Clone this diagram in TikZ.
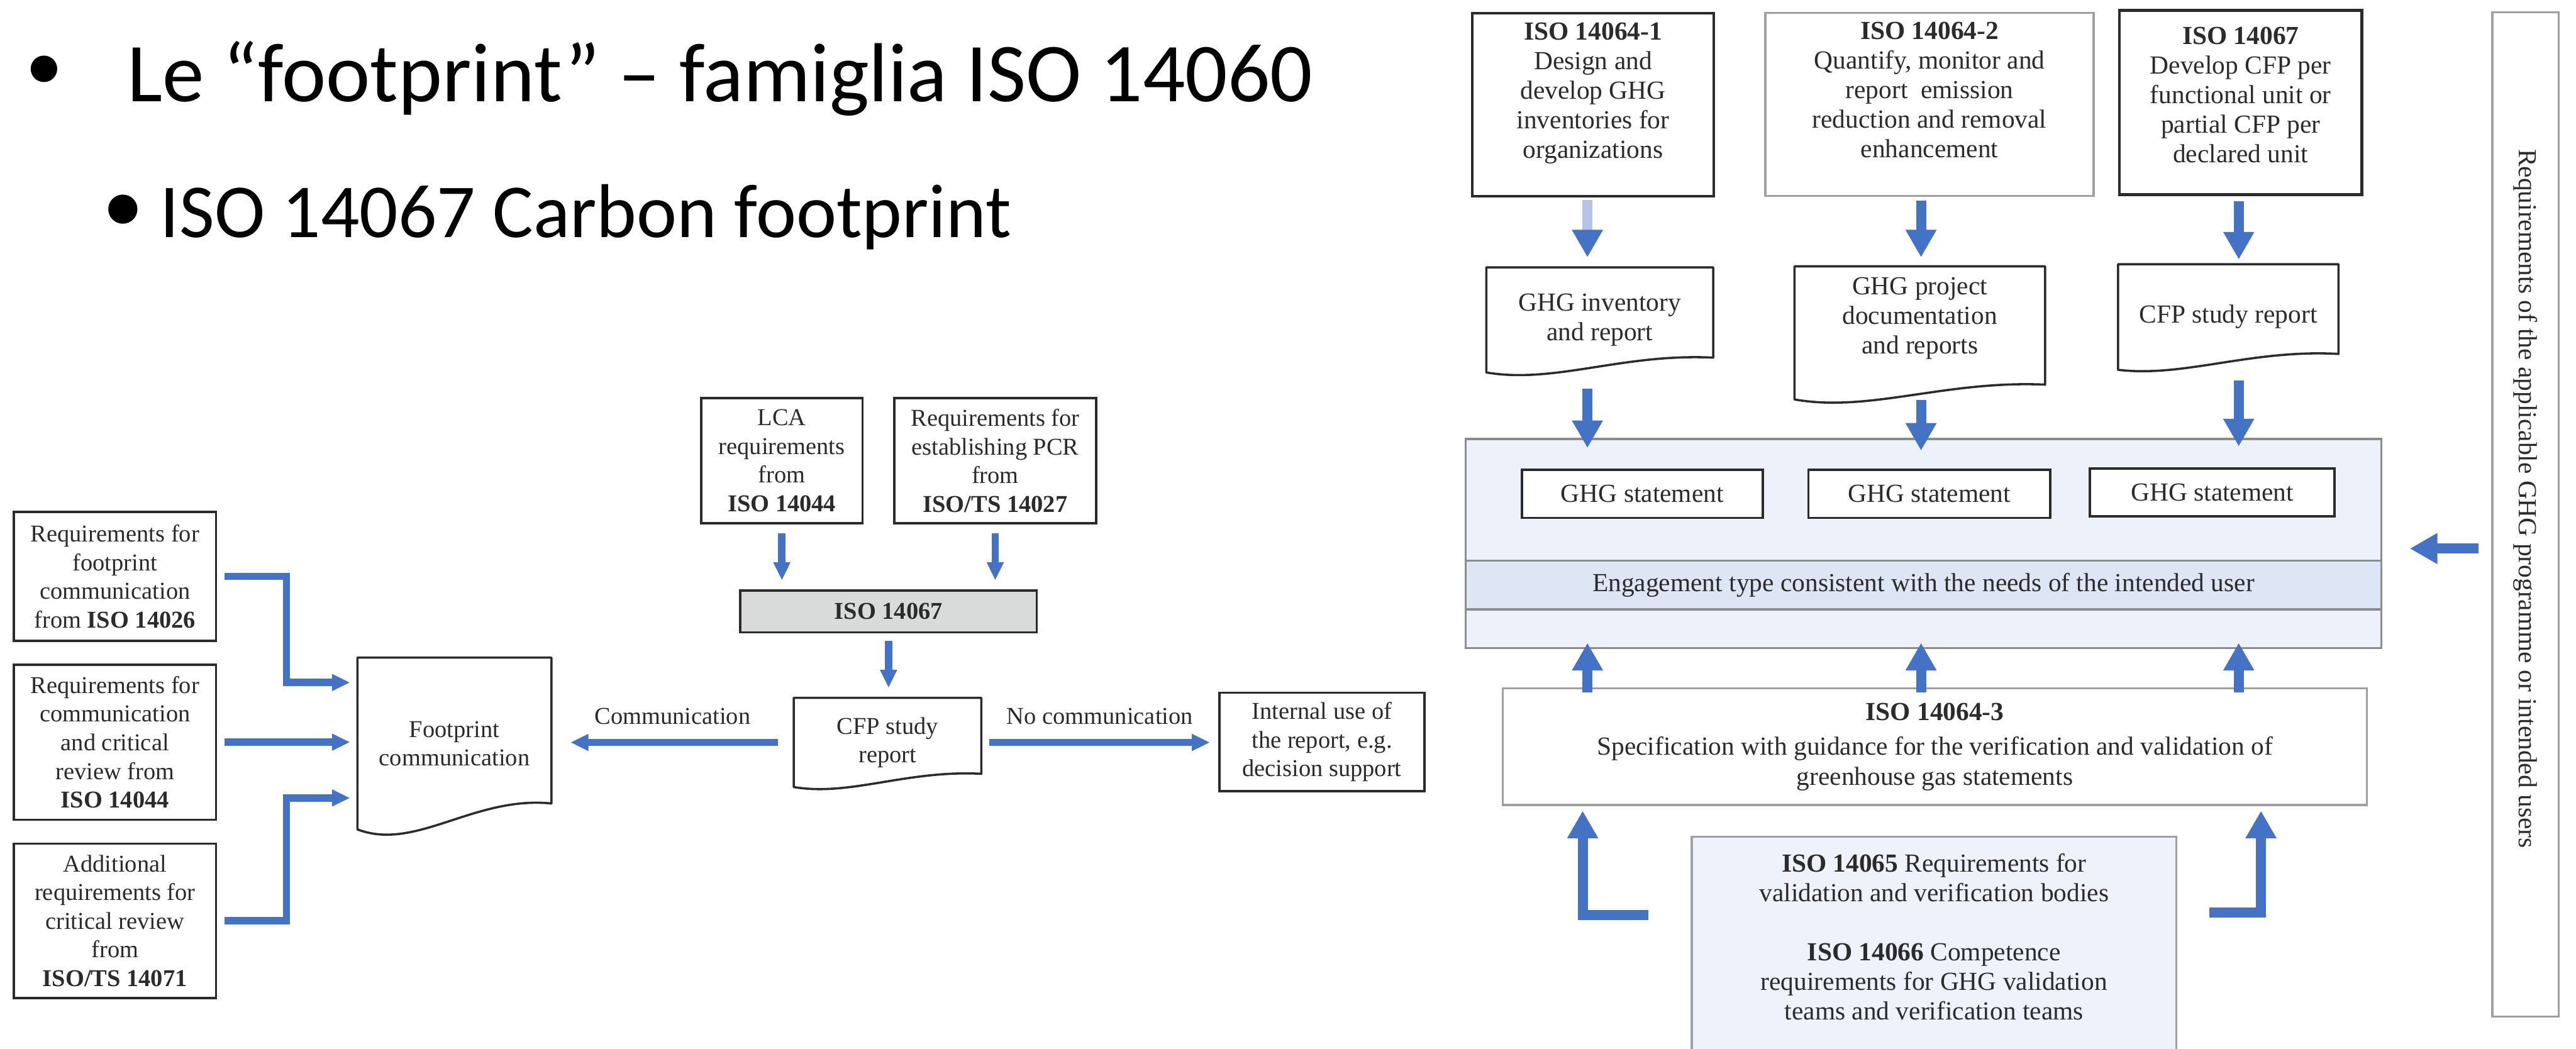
\documentclass[tikz,border=0pt]{standalone}
\usepackage{fontspec}
\setmainfont{Liberation Serif}
\newfontfamily\slidefont{Carlito}
\usepackage{xcolor}
\usetikzlibrary{arrows.meta,positioning,calc}
\definecolor{isoblue}{HTML}{4472C4}
\definecolor{isopale}{HTML}{B4C3E6}
\definecolor{boxgray}{HTML}{D9DADA}
\definecolor{lineg}{HTML}{A0A0A0}
\definecolor{panelline}{HTML}{8C8C8C}
\definecolor{inkdark}{HTML}{2B2B2B}
\definecolor{panel}{HTML}{EDF1F9}
\definecolor{band}{HTML}{DEE5F4}
\definecolor{panelb}{HTML}{EEF2FB}

% document symbol: top edge, sides, wavy bottom
\newcommand{\drawdoc}[3]{%
  \draw[docline] (#1.north west) -- (#1.north east) -- ([yshift=#2cm]#1.south east)
    .. controls ($(#1.south west)!0.6!(#1.south east)+(0,1.3*#2)$)
    and ($(#1.south west)!0.3!(#1.south east)+(0,-#3)$) .. (#1.south west) -- cycle;}

\begin{document}
\begin{tikzpicture}[x=1cm, y=1cm,
    txt/.style={font=\fontsize{13pt}{15.4pt}\selectfont, text=inkdark, align=center},
    rtxt/.style={font=\fontsize{14pt}{15.9pt}\selectfont},
    stdbox/.style={txt, rectangle, draw=inkdark, line width=1.2pt, fill=white, inner sep=2pt, anchor=north west},
    thinbox/.style={txt, rectangle, draw=lineg, line width=1.2pt, fill=white, inner sep=2pt, anchor=north west},
    docbox/.style={txt, rectangle, inner sep=2pt, anchor=north west},
    docline/.style={draw=inkdark, line width=1.2pt, line join=round},
    larrow/.style={draw=isoblue, line width=0.14cm, -{Triangle[length=0.34cm, width=0.30cm]}},
    barrow/.style={draw=isoblue, line width=0.19cm, -{Triangle[length=0.52cm, width=0.55cm]}},
    headline/.style={font=\slidefont\fontsize{45pt}{54pt}\selectfont, anchor=base west, inner sep=0pt},
    bulletdot/.style={circle, fill=black, inner sep=0pt, minimum size=0.5cm}
]
    \useasboundingbox (0,0) rectangle (48.65,-19.80);

    % Slide title
    \node[bulletdot] (dotA) at (0.83,-1.30) {};
    \node[headline] (titleA) at (2.40,-1.92) {Le “footprint” – famiglia ISO 14060};
    \node[bulletdot, minimum size=0.55cm] (dotB) at (2.32,-3.95) {};
    \node[headline, font=\slidefont\fontsize{41pt}{48pt}\selectfont] (titleB) at (3.02,-4.48) {ISO 14067 Carbon footprint};

    % Communication inputs
    \node[stdbox, minimum width=3.82cm, minimum height=2.43cm] (rq26) at (0.24,-9.65) {Requirements for\\footprint\\communication\\from \textbf{ISO 14026}};
    \node[stdbox, minimum width=3.82cm, minimum height=2.93cm] (rq44) at (0.24,-12.53) {Requirements for\\communication\\and critical\\review from\\\textbf{ISO 14044}};
    \node[stdbox, minimum width=3.82cm, minimum height=2.92cm] (rq71) at (0.24,-15.91) {Additional\\requirements for\\critical review\\from\\\textbf{ISO/TS 14071}};
    \node[docbox, minimum width=3.65cm, minimum height=3.23cm] (fp) at (6.75,-12.42) {Footprint\\communication};
    \drawdoc{fp}{0.49}{0.42}

    \coordinate (ljoin) at (5.41,0);
    \coordinate (fpA) at ($(fp.north west)+(0,-0.47)$);
    \coordinate (fpC) at ($(fp.north west)+(0,-2.65)$);
    \draw[larrow, shorten <=0.14cm, shorten >=0.14cm] (rq26.east) -| (ljoin |- fpA) -- (fpA);
    \draw[larrow, shorten <=0.14cm, shorten >=0.14cm] (rq44.east) -- (rq44.east -| fp.west);
    \draw[larrow, shorten <=0.14cm, shorten >=0.14cm] (rq71.east) -| (ljoin |- fpC) -- (fpC);

    % ISO 14067 chain
    \node[stdbox, minimum width=3.05cm, minimum height=2.36cm] (lca) at (13.22,-7.50) {LCA\\requirements\\from\\\textbf{ISO 14044}};
    \node[stdbox, minimum width=3.81cm, minimum height=2.36cm] (pcr) at (16.87,-7.50) {Requirements for\\establishing PCR\\from\\\textbf{ISO/TS 14027}};
    \node[stdbox, fill=boxgray, minimum width=5.60cm, minimum height=0.79cm] (iso67) at (13.96,-11.13) {\textbf{ISO 14067}};
    \node[docbox, minimum width=3.53cm, minimum height=1.67cm] (cfpl) at (14.99,-13.18) {CFP study\\report};
    \drawdoc{cfpl}{0.25}{0.18}
    \node[stdbox, minimum width=3.87cm, minimum height=1.86cm] (intern) at (23.01,-13.06) {Internal use of\\the report, e.g.\\decision support};

    \draw[larrow, shorten <=0.17cm, shorten >=0.17cm] (lca.south) -- (lca.south |- iso67.north);
    \draw[larrow, shorten <=0.17cm, shorten >=0.17cm] (pcr.south) -- (pcr.south |- iso67.north);
    \draw[larrow, shorten <=0.14cm, shorten >=0.19cm] (iso67.south) -- (iso67.south |- cfpl.north);
    \draw[larrow, shorten <=0.30cm, shorten >=0.36cm] (cfpl.west) -- node[midway, above, yshift=0.15cm, txt] (lblcomm) {Communication} (cfpl.west -| fp.east);
    \draw[larrow, shorten <=0.15cm, shorten >=0.16cm] (cfpl.east) -- node[midway, above, yshift=0.15cm, txt] (lblnocomm) {No communication} (cfpl.east -| intern.west);

    % ISO 14064 family
    \node[stdbox, rtxt, text depth=0.54cm, line width=1.5pt, minimum width=4.56cm, minimum height=3.46cm] (g641) at (27.78,-0.22) {\textbf{ISO 14064-1}\\Design and\\develop GHG\\inventories for\\organizations};
    \node[thinbox, rtxt, text depth=0.56cm, minimum width=6.20cm, minimum height=3.46cm] (g642) at (33.32,-0.22) {\textbf{ISO 14064-2}\\Quantify, monitor and\\report~ emission\\reduction and removal\\enhancement};
    \node[stdbox, rtxt, text depth=0.30cm, line width=1.5pt, minimum width=4.58cm, minimum height=3.48cm] (g67) at (40.00,-0.17) {\textbf{ISO 14067}\\Develop CFP per\\functional unit or\\partial CFP per\\declared unit};

    \node[docbox, rtxt, minimum width=4.27cm, minimum height=1.97cm] (ghginv) at (28.07,-5.05) {GHG inventory\\and report};
    \drawdoc{ghginv}{0.28}{0.22}
    \node[docbox, rtxt, text depth=0.66cm, minimum width=4.72cm, minimum height=2.50cm] (ghgprj) at (33.89,-5.03) {GHG project\\documentation\\and reports};
    \drawdoc{ghgprj}{0.28}{0.25}
    \node[docbox, rtxt, minimum width=4.15cm, minimum height=1.98cm] (cfpr) at (40.00,-4.99) {CFP study report};
    \drawdoc{cfpr}{0.30}{0.15}

    % Verification panel
    \node[rectangle, draw=panelline, line width=1.2pt, fill=panel, minimum width=17.29cm, minimum height=3.95cm, anchor=north west] (panel) at (27.66,-8.27) {};
    \node[txt, rtxt, rectangle, draw=panelline, line width=1.2pt, fill=band, minimum width=17.29cm, minimum height=0.92cm, anchor=north west] (band) at (27.66,-10.57) {Engagement type consistent with the needs of the intended user};
    \node[stdbox, rtxt, minimum width=4.55cm, minimum height=0.91cm] (st1) at (28.72,-8.85) {GHG statement};
    \node[stdbox, rtxt, minimum width=4.57cm, minimum height=0.91cm] (st2) at (34.13,-8.85) {GHG statement};
    \node[stdbox, rtxt, minimum width=4.62cm, minimum height=0.90cm] (st3) at (39.45,-8.83) {GHG statement};

    \node[thinbox, rtxt, minimum width=16.32cm, minimum height=2.20cm] (g643) at (28.36,-12.98) {\textbf{ISO 14064-3}\\[3pt]Specification with guidance for the verification and validation of\\greenhouse gas statements};
    \node[thinbox, fill=panelb, minimum width=9.15cm, minimum height=4.60cm] (g6566) at (31.93,-15.78) {};
    \node[txt, rtxt, anchor=north, inner sep=0pt, below=0.33cm of g6566.north] (g6566t) {\textbf{ISO 14065} Requirements for\\validation and verification bodies\\[15.9pt]\textbf{ISO 14066} Competence\\requirements for GHG validation\\teams and verification teams};

    \node[thinbox, minimum width=1.25cm, minimum height=18.97cm] (vbox) at (47.05,-0.21) {};
    \node[txt, rtxt, rotate=-90] (vtext) at ($(vbox.center)+(0,0.30)$) {Requirements of the applicable GHG programme or intended users};

    % Blue connectors
    \coordinate (colA) at (29.98,0);
    \coordinate (colB) at (36.28,0);
    \coordinate (colC) at (42.28,0);
    \draw[barrow, draw=isopale, arrows={-Triangle[length=0.52cm, width=0.55cm, color=isoblue]}, shorten <=0.04cm, shorten >=0.19cm] (colA |- g641.south) -- (colA |- ghginv.north);
    \draw[barrow, shorten <=0.07cm, shorten >=0.17cm] (colB |- g642.south) -- (colB |- ghgprj.north);
    \draw[barrow, shorten <=0.10cm, shorten >=0.09cm] (colC |- g67.south) -- (colC |- cfpr.north);

    \draw[barrow, shorten <=0.31cm, shorten >=-0.19cm] (colA |- ghginv.south) -- (colA |- panel.north);
    \draw[barrow, shorten <=0.01cm, shorten >=-0.24cm] (colB |- ghgprj.south) -- (colB |- panel.north);
    \draw[barrow, shorten <=0.20cm, shorten >=-0.16cm] (colC |- cfpr.south) -- (colC |- panel.north);

    \foreach \c in {colA,colB,colC}
        \draw[barrow, shorten <=-0.10cm, shorten >=-0.12cm] (\c |- g643.north) -- (\c |- panel.south);

    \coordinate (lfoot) at (31.13,-17.28);
    \coordinate (rfoot) at (41.72,-17.23);
    \coordinate (lrise) at (29.89,0);
    \coordinate (rrise) at (42.70,0);
    \draw[barrow, shorten >=0.09cm] (lfoot) -| (lrise |- g643.south);
    \draw[barrow, shorten >=0.09cm] (rfoot) -| (rrise |- g643.south);

    \coordinate (vin) at (0,-10.36);
    \draw[barrow, shorten <=0.24cm, shorten >=0.52cm] (vbox.west |- vin) -- (panel.east |- vin);
\end{tikzpicture}
\end{document}
